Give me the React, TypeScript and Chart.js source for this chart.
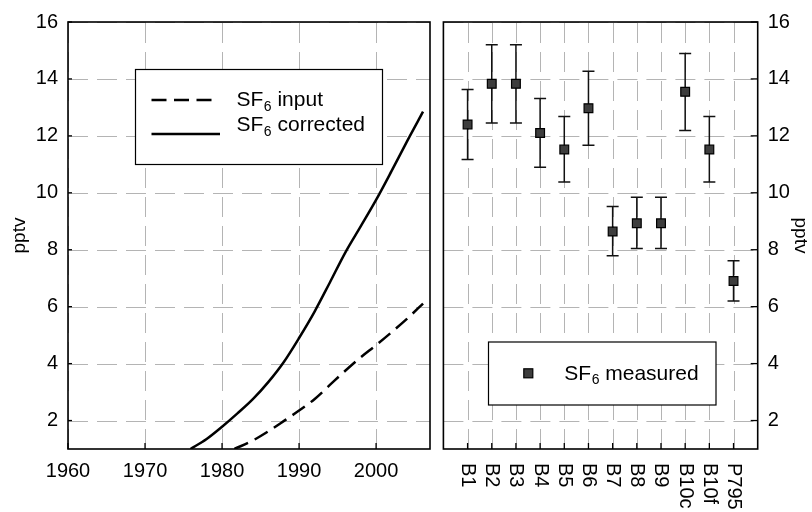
import React, { useEffect, useRef } from "react";
import { Chart, registerables } from "chart.js";

Chart.register(...registerables);

// ---------- data ----------
const yTickValues = [2, 4, 6, 8, 10, 12, 14, 16];
const yearTickValues = [1960, 1970, 1980, 1990, 2000];

const correctedYears = [1975.9, 1978, 1980, 1982, 1984, 1986, 1988, 1990, 1992, 1994, 1996, 1998, 2000, 2002, 2004, 2006.1];
const correctedValues = [1.0, 1.35, 1.78, 2.25, 2.75, 3.35, 4.05, 4.9, 5.82, 6.85, 7.9, 8.82, 9.75, 10.76, 11.8, 12.85];

const inputYears = [1981.6, 1984, 1986, 1988, 1990, 1992, 1994, 1996, 1998, 2000, 2002, 2004, 2006.1];
const inputValues = [1.0, 1.3, 1.62, 1.98, 2.35, 2.75, 3.25, 3.75, 4.22, 4.65, 5.1, 5.57, 6.11];

const sites = ["B1", "B2", "B3", "B4", "B5", "B6", "B7", "B8", "B9", "B10c", "B10f", "P795"];
const measuredValues = [12.4, 13.83, 13.83, 12.1, 11.52, 12.97, 8.64, 8.93, 8.93, 13.55, 11.52, 6.9];
const errorLow = [11.17, 12.45, 12.45, 10.9, 10.38, 11.67, 7.79, 8.04, 8.04, 12.19, 10.38, 6.2];
const errorHigh = [13.63, 15.2, 15.2, 13.31, 12.68, 14.27, 9.52, 9.84, 9.84, 14.89, 12.68, 7.61];

// ---------- styles ----------
const FONT = '"Liberation Sans", Arial, Helvetica, sans-serif';
const GRID_COLOR = "#b4b4b4";
const LINE_DASH = [15, 7.5];

function drawGrid(chart: any) {
  const { ctx, chartArea: a, scales } = chart;
  const x = scales.x;
  const y = scales.y;
  ctx.save();
  ctx.strokeStyle = GRID_COLOR;
  ctx.lineWidth = 1;
  ctx.setLineDash([20, 9]);
  x.ticks.forEach((t: any) => {
    const px = Math.round(x.getPixelForValue(t.value)) + 0.5;
    ctx.beginPath();
    ctx.moveTo(px, a.bottom);
    ctx.lineTo(px, a.top);
    ctx.stroke();
  });
  y.ticks.forEach((t: any) => {
    const py = Math.round(y.getPixelForValue(t.value)) + 0.5;
    ctx.beginPath();
    ctx.moveTo(a.left, py);
    ctx.lineTo(a.right, py);
    ctx.stroke();
  });
  ctx.restore();
}

function drawFrame(chart: any, xTickLen: number, yTickLen: number, ySide: "left" | "right") {
  const { ctx, chartArea: a, scales } = chart;
  const x = scales.x;
  const y = scales.y;
  ctx.save();
  ctx.strokeStyle = "#000";
  ctx.lineWidth = 1.6;
  ctx.setLineDash([]);
  ctx.strokeRect(a.left, a.top, a.right - a.left, a.bottom - a.top);
  ctx.lineWidth = 1.3;
  x.ticks.forEach((t: any) => {
    const px = x.getPixelForValue(t.value);
    ctx.beginPath();
    ctx.moveTo(px, a.bottom);
    ctx.lineTo(px, a.bottom - xTickLen);
    ctx.stroke();
  });
  y.ticks.forEach((t: any) => {
    const py = y.getPixelForValue(t.value);
    ctx.beginPath();
    if (ySide === "left") {
      ctx.moveTo(a.left, py);
      ctx.lineTo(a.left + yTickLen, py);
    } else {
      ctx.moveTo(a.right, py);
      ctx.lineTo(a.right - yTickLen, py);
    }
    ctx.stroke();
  });
  ctx.restore();
}

function drawSF6(ctx: CanvasRenderingContext2D, x: number, baseline: number, rest: string) {
  ctx.fillStyle = "#000";
  ctx.textAlign = "left";
  ctx.textBaseline = "alphabetic";
  ctx.font = `21px ${FONT}`;
  ctx.fillText("SF", x, baseline);
  const w1 = ctx.measureText("SF").width;
  ctx.font = `14px ${FONT}`;
  ctx.fillText("6", x + w1 + 0.5, baseline + 4.5);
  const w2 = ctx.measureText("6").width;
  ctx.font = `21px ${FONT}`;
  ctx.fillText(rest, x + w1 + 0.5 + w2, baseline);
}

const leftPlugin = {
  id: "leftDecor",
  beforeDatasetsDraw(chart: any) {
    drawGrid(chart);
  },
  afterDatasetsDraw(chart: any) {
    drawFrame(chart, 6, 4, "left");
  },
  afterDraw(chart: any) {
    const ctx = chart.ctx as CanvasRenderingContext2D;
    ctx.save();
    // legend box
    ctx.fillStyle = "#fff";
    ctx.fillRect(135, 69, 248, 96);
    ctx.strokeStyle = "#000";
    ctx.lineWidth = 1.2;
    ctx.strokeRect(135.5, 69.5, 247, 95);
    // dashed sample
    ctx.lineWidth = 2.6;
    ctx.setLineDash(LINE_DASH);
    ctx.beginPath();
    ctx.moveTo(151.5, 100);
    ctx.lineTo(214, 100);
    ctx.stroke();
    // solid sample
    ctx.setLineDash([]);
    ctx.beginPath();
    ctx.moveTo(151.5, 134);
    ctx.lineTo(220, 134);
    ctx.stroke();
    drawSF6(ctx, 236.5, 106, " input");
    drawSF6(ctx, 236.5, 131, " corrected");
    ctx.restore();
  },
};

const rightPlugin = {
  id: "rightDecor",
  beforeDatasetsDraw(chart: any) {
    drawGrid(chart);
    const { ctx, scales } = chart;
    const x = scales.x;
    const y = scales.y;
    ctx.save();
    ctx.strokeStyle = "#111";
    ctx.lineWidth = 1.5;
    ctx.setLineDash([]);
    sites.forEach((_, i) => {
      const px = x.getPixelForValue(i + 1);
      const yl = y.getPixelForValue(errorLow[i]);
      const yh = y.getPixelForValue(errorHigh[i]);
      ctx.beginPath();
      ctx.moveTo(px, yl);
      ctx.lineTo(px, yh);
      ctx.moveTo(px - 6, yl);
      ctx.lineTo(px + 6, yl);
      ctx.moveTo(px - 6, yh);
      ctx.lineTo(px + 6, yh);
      ctx.stroke();
    });
    ctx.restore();
  },
  afterDatasetsDraw(chart: any) {
    drawFrame(chart, 6, 7, "right");
  },
  afterDraw(chart: any) {
    const ctx = chart.ctx as CanvasRenderingContext2D;
    const { chartArea: a, scales } = chart;
    const x = scales.x;
    ctx.save();
    // rotated category labels
    ctx.fillStyle = "#000";
    ctx.font = `20px ${FONT}`;
    sites.forEach((s, i) => {
      const px = x.getPixelForValue(i + 1);
      ctx.save();
      ctx.translate(px, a.bottom + 14);
      ctx.rotate(Math.PI / 2);
      ctx.textAlign = "left";
      ctx.textBaseline = "middle";
      ctx.fillText(s, 0, 0);
      ctx.restore();
    });
    // legend box
    ctx.fillStyle = "#fff";
    ctx.fillRect(52.5, 342, 227.5, 63);
    ctx.strokeStyle = "#000";
    ctx.lineWidth = 1.2;
    ctx.strokeRect(52.5, 342, 227.5, 63);
    ctx.fillStyle = "#3d3d3d";
    ctx.fillRect(92.3 - 4.5, 373.3 - 4.5, 9, 9);
    ctx.lineWidth = 1.2;
    ctx.strokeRect(92.3 - 4.5, 373.3 - 4.5, 9, 9);
    drawSF6(ctx, 128.3, 379.5, " measured");
    ctx.restore();
  },
};

const tickFont = { family: FONT, size: 20 };
const titleFont = { family: FONT, size: 19 };

function leftConfig(): any {
  return {
    type: "line",
    data: {
      datasets: [
        {
          label: "SF6 input",
          data: inputYears.map((yr, i) => ({ x: yr, y: inputValues[i] })),
          borderColor: "#000",
          borderWidth: 2.5,
          borderDash: LINE_DASH,
          pointRadius: 0,
          tension: 0.4,
          cubicInterpolationMode: "monotone",
          fill: false,
        },
        {
          label: "SF6 corrected",
          data: correctedYears.map((yr, i) => ({ x: yr, y: correctedValues[i] })),
          borderColor: "#000",
          borderWidth: 2.5,
          pointRadius: 0,
          tension: 0.4,
          cubicInterpolationMode: "monotone",
          fill: false,
        },
      ],
    },
    options: {
      responsive: false,
      animation: false,
      events: [],
      layout: { padding: { left: 0, right: 6, top: 16, bottom: 0 } },
      plugins: { legend: { display: false }, tooltip: { enabled: false } },
      scales: {
        x: {
          type: "linear",
          min: 1960,
          max: 2007,
          afterBuildTicks: (s: any) => {
            s.ticks = yearTickValues.map((v) => ({ value: v }));
          },
          afterFit: (s: any) => {
            s.height = 63;
          },
          ticks: {
            font: tickFont,
            color: "#000",
            padding: 10,
            autoSkip: false,
            maxRotation: 0,
            callback: (v: any) => String(v),
          },
          grid: { display: false, drawTicks: false },
          border: { display: false },
        },
        y: {
          type: "linear",
          min: 1,
          max: 16,
          afterBuildTicks: (s: any) => {
            s.ticks = yTickValues.map((v) => ({ value: v }));
          },
          afterFit: (s: any) => {
            s.width = 68;
          },
          ticks: { font: tickFont, color: "#000", padding: 10 },
          grid: { display: false, drawTicks: false },
          border: { display: false },
          title: { display: true, text: "pptv", font: titleFont, color: "#000", padding: { top: 8, bottom: 0 } },
        },
      },
    },
    plugins: [leftPlugin],
  };
}

function rightConfig(): any {
  return {
    type: "scatter",
    data: {
      datasets: [
        {
          label: "SF6 measured",
          data: sites.map((_, i) => ({ x: i + 1, y: measuredValues[i] })),
          pointStyle: "rect",
          pointRadius: 6.2,
          backgroundColor: "#3d3d3d",
          borderColor: "#000",
          borderWidth: 1.2,
        },
      ],
    },
    options: {
      responsive: false,
      animation: false,
      events: [],
      layout: { padding: { left: 5.7, right: 0, top: 16, bottom: 0 } },
      plugins: { legend: { display: false }, tooltip: { enabled: false } },
      scales: {
        x: {
          type: "linear",
          min: 0,
          max: sites.length + 1,
          afterBuildTicks: (s: any) => {
            s.ticks = sites.map((_, i) => ({ value: i + 1 }));
          },
          afterFit: (s: any) => {
            s.height = 63;
          },
          ticks: { display: false },
          grid: { display: false, drawTicks: false },
          border: { display: false },
        },
        y: {
          type: "linear",
          position: "right",
          min: 1,
          max: 16,
          afterBuildTicks: (s: any) => {
            s.ticks = yTickValues.map((v) => ({ value: v }));
          },
          afterFit: (s: any) => {
            s.width = 54.3;
          },
          ticks: { font: tickFont, color: "#000", padding: 10 },
          grid: { display: false, drawTicks: false },
          border: { display: false },
          title: { display: true, text: "pptv", font: titleFont, color: "#000", padding: { top: 0, bottom: 0 } },
        },
      },
    },
    plugins: [rightPlugin],
  };
}

export default function App() {
  const leftRef = useRef<HTMLCanvasElement>(null);
  const rightRef = useRef<HTMLCanvasElement>(null);
  useEffect(() => {
    const left = new Chart(leftRef.current as HTMLCanvasElement, leftConfig());
    const right = new Chart(rightRef.current as HTMLCanvasElement, rightConfig());
    return () => {
      left.destroy();
      right.destroy();
    };
  }, []);
  return (
    <div style={{ position: "fixed", left: 0, top: 0, width: 812, height: 512, background: "#fff" }}>
      <canvas
        ref={leftRef}
        width={436}
        height={512}
        style={{ position: "absolute", left: 0, top: 0, width: 436, height: 512 }}
      />
      <canvas
        ref={rightRef}
        width={376}
        height={512}
        style={{ position: "absolute", left: 436, top: 0, width: 376, height: 512 }}
      />
    </div>
  );
}
